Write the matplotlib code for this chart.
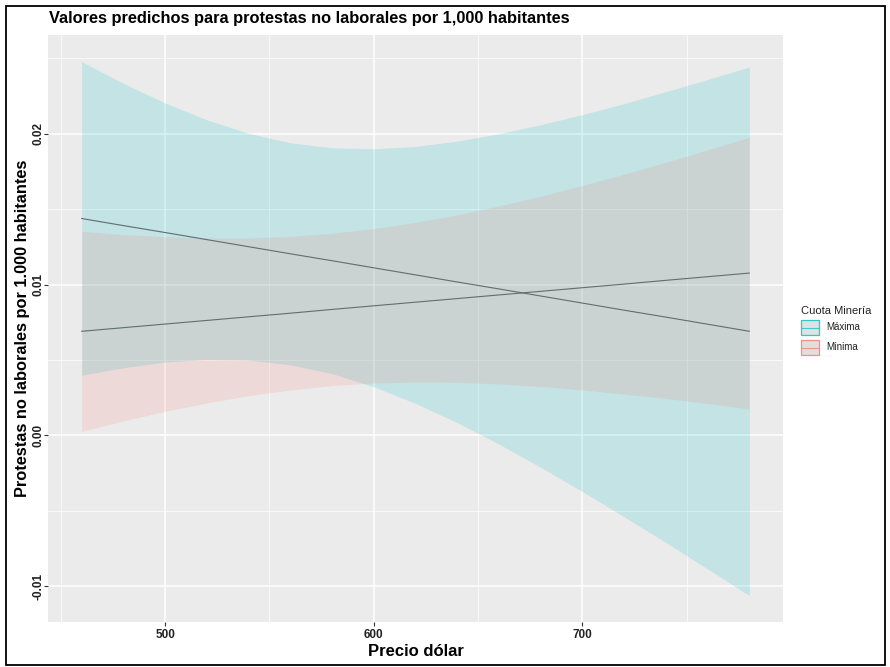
import numpy as np
import matplotlib.pyplot as plt
from matplotlib.patches import Rectangle
from matplotlib.lines import Line2D

plt.rcParams['font.family'] = ['Liberation Sans', 'DejaVu Sans']

# Predicted values and confidence band by mining share group
precio = [460, 480, 500, 520, 540, 560, 580, 600, 620, 640, 660, 680, 700, 720, 740, 760, 780]

max_fit = [0.01438, 0.01391, 0.01345, 0.01298, 0.01251, 0.01204, 0.01158, 0.01111, 0.01064,
           0.01017, 0.00971, 0.00924, 0.00877, 0.00830, 0.00784, 0.00737, 0.00690]
max_upper = [0.02478, 0.02334, 0.02204, 0.02092, 0.02003, 0.01940, 0.01907, 0.01900, 0.01916,
             0.01951, 0.02000, 0.02060, 0.02127, 0.02200, 0.02279, 0.02360, 0.02443]
max_lower = [0.00399, 0.00448, 0.00486, 0.00504, 0.00499, 0.00468, 0.00409, 0.00322, 0.00212,
             0.00084, -0.00058, -0.00212, -0.00373, -0.00540, -0.00711, -0.00886, -0.01063]

min_fit = [0.00690, 0.00714, 0.00738, 0.00762, 0.00786, 0.00810, 0.00835, 0.00859, 0.00883,
           0.00907, 0.00931, 0.00955, 0.00979, 0.01003, 0.01028, 0.01052, 0.01076]
min_upper = [0.01353, 0.01332, 0.01317, 0.01309, 0.01309, 0.01319, 0.01340, 0.01371, 0.01412,
             0.01463, 0.01521, 0.01586, 0.01657, 0.01732, 0.01811, 0.01893, 0.01977]
min_lower = [0.00027, 0.00096, 0.00159, 0.00215, 0.00263, 0.00301, 0.00330, 0.00347, 0.00354,
             0.00352, 0.00341, 0.00324, 0.00301, 0.00274, 0.00245, 0.00211, 0.00175]

grupos = ['Máxima', 'Mínima']
colores = ['#00BFC4', '#F8766D']

W, H = 890, 667
fig = plt.figure(figsize=(8.9, 6.67), dpi=100)
ax = fig.add_axes([48.3 / W, 1 - 622.3 / H, (782.7 - 48.3) / W, (622.3 - 35) / H])
ax.set_facecolor('#EBEBEB')

ax.fill_between(precio, max_lower, max_upper, color=colores[0], alpha=0.17, lw=0)
ax.fill_between(precio, min_lower, min_upper, color=colores[1], alpha=0.15, lw=0)
ax.plot(precio, max_fit, color='#5f6e6e', lw=0.8)
ax.plot(precio, min_fit, color='#5f6e6e', lw=0.8)

# ggplot-like expanded limits
xr = precio[-1] - precio[0]
ax.set_xlim(precio[0] - 0.05 * xr, precio[-1] + 0.05 * xr)
ylo, yhi = min(max_lower), max(max_upper)
yr = yhi - ylo
ax.set_ylim(ylo - 0.05 * yr, yhi + 0.05 * yr)

ax.set_xticks([500, 600, 700])
ax.set_xticks([450, 550, 650, 750], minor=True)
ax.set_yticks([-0.01, 0.0, 0.01, 0.02])
ax.set_yticks([-0.005, 0.005, 0.015, 0.025], minor=True)
ax.set_xticklabels(['500', '600', '700'], fontweight='bold', fontsize=8.5, color='#222222')
ax.set_yticklabels(['-0.01', '0.00', '0.01', '0.02'], fontweight='bold', fontsize=8.5,
                   color='#222222', rotation=90, va='center')
ax.grid(which='major', color='white', lw=1.1)
ax.grid(which='minor', color='white', lw=0.5)
ax.set_axisbelow(True)
ax.tick_params(which='major', length=3, color='#333333')
ax.tick_params(axis='x', which='major', pad=2)
ax.tick_params(axis='y', which='major', pad=0)
ax.tick_params(which='minor', length=0)
for s in ax.spines.values():
    s.set_visible(False)

ax.set_xlabel('Precio dólar', fontweight='bold', fontsize=12, labelpad=2)
ax.set_ylabel('Protestas no laborales por 1.000 habitantes', fontweight='bold', fontsize=11.8)
ax.yaxis.set_label_coords((30 - 48.3) / 734.4, 0.5)
fig.text(49 / W, 1 - 19 / H, 'Valores predichos para protestas no laborales por 1,000 habitantes',
         fontweight='bold', fontsize=11.8, va='center', ha='left')

# legend
fig.text(801 / W, 1 - 311 / H, 'Cuota Minería', fontsize=8, va='center', ha='left', color='#222222')
keys_fill = ['#d3dddd', '#ddd6d6']
for i, (g, c) in enumerate(zip(grupos, colores)):
    y0 = 320 + i * 20
    fig.patches.append(Rectangle((801 / W, 1 - (y0 + 15) / H), 18 / W, 15 / H,
                                 transform=fig.transFigure, facecolor=keys_fill[i],
                                 edgecolor=c, lw=0.9, alpha=0.8))
    fig.lines.append(Line2D([802 / W, 818 / W], [1 - (y0 + 7.5) / H] * 2,
                            transform=fig.transFigure, color=c, lw=0.8, alpha=0.7))
    fig.text(826 / W, 1 - (y0 + 7.5) / H, g, fontsize=7, va='center', ha='left', color='#222222')

# outer frame
fig.patches.append(Rectangle((6 / W, 1 - 665 / H), 879 / W, 659 / H, transform=fig.transFigure,
                             fill=False, edgecolor='black', lw=1.3))

fig.savefig('out.png', dpi=100)
